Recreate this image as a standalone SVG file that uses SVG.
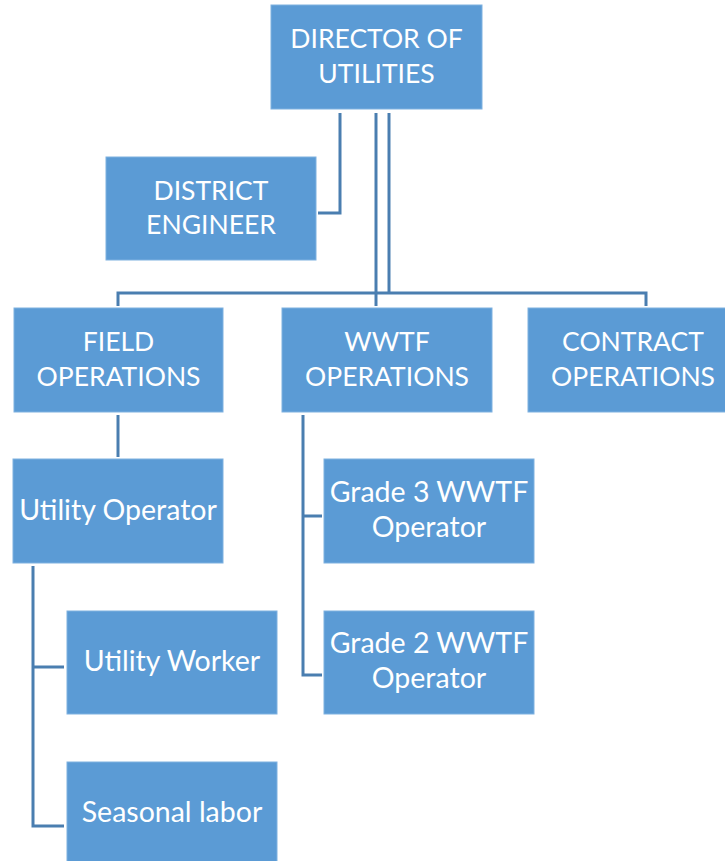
<svg xmlns="http://www.w3.org/2000/svg" width="725" height="861" viewBox="0 0 725 861">
<style>
.box{fill:#5B9BD5;stroke:#7FB1E0;stroke-width:1}
.t{font-family:Lato,"Liberation Sans",sans-serif;font-size:26.5px;fill:#FFFFFF;text-anchor:middle}
.m{font-size:28.5px}
.c{fill:none;stroke:#4A7EB0;stroke-width:3;stroke-linejoin:miter}
</style>
<rect width="725" height="861" fill="#FFFFFF"/>
<g id="connectors">
<path class="c" d="M340,113 V213 H318"/>
<path class="c" d="M376,113 V306"/>
<path class="c" d="M389,113 V293"/>
<path class="c" d="M118,306 V293 H646 V306"/>
<path class="c" d="M118,415 V457"/>
<path class="c" d="M303,415 V675 H322 M303,516 H322"/>
<path class="c" d="M33,566 V826 H64 M33,667 H64"/>
</g>
<g id="director"><rect class="box" x="271" y="5" width="211" height="104"/><text class="t" x="376.5" y="48">DIRECTOR OF</text><text class="t" x="376.5" y="83">UTILITIES</text></g>
<g id="district-engineer"><rect class="box" x="106" y="157" width="210" height="103"/><text class="t" x="211" y="200">DISTRICT</text><text class="t" x="211" y="234">ENGINEER</text></g>
<g id="field-operations"><rect class="box" x="14" y="308" width="209" height="104"/><text class="t" x="118.5" y="351">FIELD</text><text class="t" x="118.5" y="386">OPERATIONS</text></g>
<g id="wwtf-operations"><rect class="box" x="282" y="308" width="210" height="104"/><text class="t" x="387" y="351">WWTF</text><text class="t" x="387" y="386">OPERATIONS</text></g>
<g id="contract-operations"><rect class="box" x="528" y="308" width="210" height="104"/><text class="t" x="633" y="351">CONTRACT</text><text class="t" x="633" y="386">OPERATIONS</text></g>
<g id="utility-operator"><rect class="box" x="13" y="459" width="210" height="104"/><text class="t m" x="118" y="520">Utility Operator</text></g>
<g id="grade3"><rect class="box" x="324" y="459" width="210" height="104"/><text class="t m" x="429" y="502">Grade 3 WWTF</text><text class="t m" x="429" y="537">Operator</text></g>
<g id="grade2"><rect class="box" x="324" y="611" width="210" height="103"/><text class="t m" x="429" y="653">Grade 2 WWTF</text><text class="t m" x="429" y="688">Operator</text></g>
<g id="utility-worker"><rect class="box" x="67" y="611" width="210" height="103"/><text class="t m" x="172" y="671">Utility Worker</text></g>
<g id="seasonal-labor"><rect class="box" x="67" y="762" width="210" height="104"/><text class="t m" x="172" y="822">Seasonal labor</text></g>
</svg>
